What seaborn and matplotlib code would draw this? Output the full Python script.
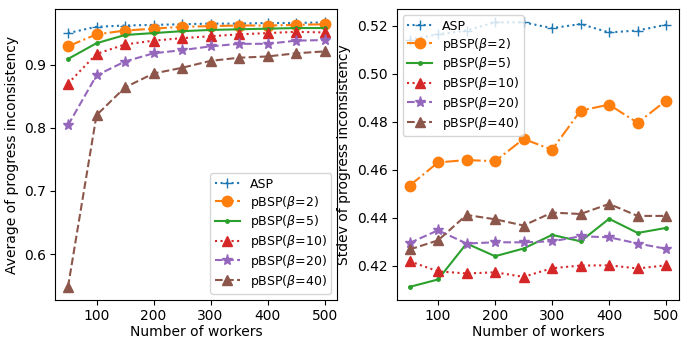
import numpy as np
import pandas as pd
import matplotlib
matplotlib.use("Agg")
import matplotlib.pyplot as plt
import seaborn as sns

# number of workers on the x axis
workers = [50, 100, 150, 200, 250, 300, 350, 400, 450, 500]

labels = ['ASP', r'pBSP($\beta$=2)', r'pBSP($\beta$=5)', r'pBSP($\beta$=10)',
          r'pBSP($\beta$=20)', r'pBSP($\beta$=40)']

# average of progress inconsistency
avg_asp = [0.950, 0.960, 0.962, 0.963, 0.964, 0.965, 0.965, 0.966, 0.966, 0.967]
avg_b2 = [0.929, 0.948, 0.954, 0.957, 0.960, 0.961, 0.962, 0.962, 0.963, 0.964]
avg_b5 = [0.909, 0.934, 0.947, 0.950, 0.953, 0.955, 0.956, 0.957, 0.958, 0.958]
avg_b10 = [0.870, 0.917, 0.932, 0.938, 0.942, 0.945, 0.948, 0.950, 0.952, 0.951]
avg_b20 = [0.804, 0.883, 0.905, 0.918, 0.923, 0.929, 0.933, 0.933, 0.938, 0.939]
avg_b40 = [0.548, 0.820, 0.864, 0.886, 0.895, 0.906, 0.911, 0.913, 0.918, 0.921]

# stdev of progress inconsistency
std_asp = [0.5142, 0.5164, 0.5180, 0.5214, 0.5214, 0.5190, 0.5207, 0.5172, 0.5180, 0.5204]
std_b2 = [0.4533, 0.4630, 0.4640, 0.4635, 0.4728, 0.4683, 0.4846, 0.4871, 0.4795, 0.4888]
std_b5 = [0.4111, 0.4142, 0.4292, 0.4239, 0.4271, 0.4328, 0.4301, 0.4395, 0.4336, 0.4357]
std_b10 = [0.4218, 0.4176, 0.4167, 0.4172, 0.4153, 0.4189, 0.4200, 0.4201, 0.4188, 0.4201]
std_b20 = [0.4294, 0.4347, 0.4292, 0.4297, 0.4297, 0.4301, 0.4322, 0.4318, 0.4292, 0.4270]
std_b40 = [0.4267, 0.4305, 0.4411, 0.4393, 0.4367, 0.4421, 0.4415, 0.4457, 0.4407, 0.4407]

colors = ['#1f77b4', '#ff7f0e', '#2ca02c', '#d62728', '#9467bd', '#8c564b']
markers = ['+', 'o', '.', '^', '*', '^']
styles = [':', '-.', '-', ':', '--', '--']
msizes = [7, 7.5, 5, 7, 8, 7]

plt.rcParams['font.size'] = 10

fig, axes = plt.subplots(1, 2, figsize=(6.81, 3.38), dpi=100)
fig.subplots_adjust(left=0.081, right=0.997, bottom=0.112, top=0.973, wspace=0.21)


def draw(ax, series, ylabel, loc):
    for i, vals in enumerate(series):
        sns.lineplot(x=workers, y=vals, ax=ax, color=colors[i], marker=markers[i],
                     linestyle=styles[i], markersize=msizes[i], markeredgecolor=colors[i],
                     markeredgewidth=1.0, label=labels[i])
    ax.set_xlabel('Number of workers', labelpad=1)
    ax.set_ylabel(ylabel)
    ax.set_xticks([100, 200, 300, 400, 500])
    ax.tick_params(pad=3)
    ax.legend(loc=loc, fontsize=9, labelspacing=0.22, borderpad=0.35)


draw(axes[0], [avg_asp, avg_b2, avg_b5, avg_b10, avg_b20, avg_b40],
     'Average of progress inconsistency', 'lower right')
draw(axes[1], [std_asp, std_b2, std_b5, std_b10, std_b20, std_b40],
     'Stdev of progress inconsistency', 'upper left')
axes[0].set_yticks([0.6, 0.7, 0.8, 0.9])

fig.savefig('out.png', dpi=100)
